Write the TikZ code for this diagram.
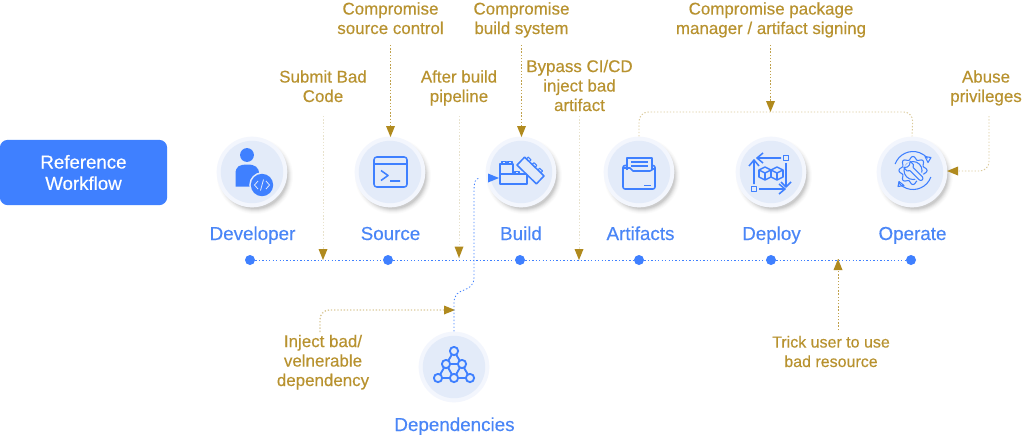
\documentclass[tikz,border=0pt]{standalone}
\usepackage{fontspec}
\setmainfont[RawFeature={embolden=0.35}]{Liberation Sans}
\usetikzlibrary{arrows.meta}
\definecolor{bl}{HTML}{3F80FF}
\definecolor{lbl}{HTML}{4A86F7}
\definecolor{gd}{HTML}{B08A1E}
\definecolor{gdt}{HTML}{B8922F}
\definecolor{pale}{HTML}{E8E2CC}
\definecolor{inn}{HTML}{E3EBF9}
\definecolor{out}{HTML}{F3F6FD}
\tikzset{
  x=0.75pt,y=-0.75pt,
  lab/.style={text=lbl,font=\fontsize{14.1pt}{15pt}\selectfont,inner sep=0pt,anchor=base},
  atk/.style={text=gdt,font=\fontsize{12.7pt}{14.6pt}\selectfont,inner sep=0pt,align=center,anchor=base},
  dotnode/.style={circle,fill=bl,minimum size=7.5pt,inner sep=0pt},
  tl/.style={draw=bl,line width=0.6pt,dash pattern=on 1pt off 1.6pt},
  gl/.style={draw=gd!80,line width=0.6pt,dash pattern=on 1pt off 1.4pt,rounded corners=7pt},
  gls/.style={draw=gd!45,line width=0.7pt,dash pattern=on 1pt off 1.4pt,rounded corners=7pt},
  pl/.style={draw=pale,line width=0.7pt,dash pattern=on 1pt off 1.4pt},
  ic/.style={draw=bl,line width=1.15pt,line join=round,fill=none},
  ict/.style={draw=bl,line width=0.8pt,line join=round,fill=none},
}
\newcommand{\disc}[3]{% name,x,y
  \foreach \r/\o in {38/.015,37/.02,36/.03,35/.04,34/.05,33/.06}{\fill[black,opacity=\o] (#2+3,#3+4) circle[radius=\r*0.75pt];}
  \node[circle,fill=out,minimum size=53pt,inner sep=0pt] (#1) at (#2,#3) {};
  \fill[inn] (#2,#3) circle[radius=23.4pt];
}
\begin{document}
\begin{tikzpicture}
\useasboundingbox (0,0) rectangle (1024,437);
\fill[white] (0,0) rectangle (1024,437);
% box
\node[fill=bl,rounded corners=6pt,minimum width=125.5pt,minimum height=49pt,inner sep=0pt,text=white,align=center,font=\fontsize{14pt}{16pt}\selectfont] (ref) at (83.5,172.5) {Reference\\Workflow};
% discs
\disc{dev}{252}{172}
\disc{src}{390}{172}
\disc{bld}{521}{172}
\disc{art}{639}{172}
\disc{dep}{771}{172}
\disc{opr}{912}{172}
\node[circle,fill=out,minimum size=53pt,inner sep=0pt] (dps) at (454,367) {};
\fill[inn] (454,367) circle[radius=23.4pt];
% labels
\node[lab] (ldev) at (252.5,240) {Developer};
\node[lab] (lsrc) at (390.5,240) {Source};
\node[lab] (lbld) at (521,240) {Build};
\node[lab] (lart) at (640.5,240) {Artifacts};
\node[lab] (ldep) at (771.5,240) {Deploy};
\node[lab] (lopr) at (912.5,240) {Operate};
\node[lab] (ldps) at (454.5,431) {Dependencies};
% timeline
\node[dotnode] (d1) at (250,260) {};
\node[dotnode] (d2) at (388,260) {};
\node[dotnode] (d3) at (520,260) {};
\node[dotnode] (d4) at (639,260) {};
\node[dotnode] (d5) at (771,260) {};
\node[dotnode] (d6) at (911,260) {};
\draw[tl] (d1)--(d2);\draw[tl] (d2)--(d3);\draw[tl] (d3)--(d4);\draw[tl] (d4)--(d5);\draw[tl] (d5)--(d6);
% attack texts
\node[atk] (t1) at (323,102) {Submit Bad\\Code};
\node[atk] (t2) at (390.5,34) {Compromise\\source control};
\node[atk] (t3) at (459,102) {After build\\pipeline};
\node[atk] (t4) at (521.5,34) {Compromise\\build system};
\node[atk] (t5) at (579.5,111) {Bypass CI/CD\\inject bad\\artifact};
\node[atk] (t6) at (771,34) {Compromise package\\manager / artifact signing};
\node[atk] (t7) at (986,102) {Abuse\\privileges};
\node[atk,font=\fontsize{12pt}{14.6pt}\selectfont] (t8) at (831,367) {Trick user to use\\bad resource};
\node[atk] (t9) at (323,386) {Inject bad/\\velnerable\\dependency};
% connectors
\coordinate (c1) at (323,260);
\coordinate (c3) at (459,258);
\coordinate (c5) at (579,260);
\coordinate (c8) at (838,259);
\draw[pl] (323,116) -- (c1);
\fill[gd] (318.5,249)--(327.5,249)--(323,260)--cycle;
\draw[pl] (459,116) -- (c3);
\fill[gd] (454.5,246.5)--(463.5,246.5)--(459,258)--cycle;
\draw[gl] (390.5,45) -- (390.5,128);
\fill[gd] (386,126)--(395,126)--(390.5,137)--cycle;
\draw[gl] (521.5,45) -- (521.5,128);
\fill[gd] (517,126)--(526,126)--(521.5,137)--cycle;
\draw[pl] (579,116) -- (c5);
\fill[gd] (574.5,249)--(583.5,249)--(579,260)--cycle;
\draw[gl] (770.5,45) -- (770.5,104);
\fill[gd] (766,101)--(775,101)--(770.5,112)--cycle;
\draw[gls] (art.north) -- (639,112) -- (913,112) -- (opr.north);
\draw[gls] (989,116) -- (989,171) -- (955,171);
\fill[gd] (947,171)--(958,166.5)--(958,175.5)--cycle;
\draw[gl] (838,330) -- (c8);
\fill[gd] (838,259)--(833.5,270)--(842.5,270)--cycle;
\coordinate (c9) at (455,310);
\draw[gls,line width=1pt] (320,332) -- (320,310) -- (445,310);
\fill[gd] (c9)--(444,305.5)--(444,314.5)--cycle;
\draw[tl] (dps.north) -- (454,303) .. controls (454,285) and (474,295) .. (474,277) -- (474,190) .. controls (474,183) and (475,178) .. (480,178);
\fill[bl] (499,178)--(488,173.5)--(488,182.5)--cycle;
% --- icons
% developer
\fill[bl] (247,155) circle[radius=5.2pt];
\fill[bl] (235.5,186.5) -- (235.5,174) .. controls (235.5,166) and (240,164.5) .. (247,164.5) .. controls (255,164.5) and (259,167) .. (259,174) -- (259,186.5) -- cycle;
\fill[inn] (262,185) circle[radius=9.6pt];
\fill[bl] (262,185) circle[radius=8.4pt];
\draw[inn,line width=0.6pt] (258,181)--(254.5,185)--(258,189) (266,181)--(269.5,185)--(266,189) (263.5,179.5)--(260.5,190.5);
% source
\draw[ic,rounded corners=2pt] (374,157) rectangle (407,187);
\draw[ic] (374,164)--(407,164);
\draw[ic] (381,170.5)--(388,175.5)--(381,180.5) (390,181)--(400,181);
% build
\draw[ic] (500,174) rectangle (527,184);
\draw[ic] (500,174) -- (500,164) -- (513,164) -- (513,174);
\draw[ict] (502,164)--(502,161.5)--(506,161.5)--(506,164) (508,164)--(508,161.5)--(512,161.5)--(512,164);
\draw[ict] (515,174)--(515,171.5)--(519,171.5)--(519,174);
\begin{scope}[shift={(530.5,170.5)},rotate=-44]
\draw[ic,fill=inn] (-13.5,-5.5) rectangle (13.5,5.5);
\draw[ict] (-11,-5.5)--(-11,-8)--(-7,-8)--(-7,-5.5) (-3,-5.5)--(-3,-8)--(1,-8)--(1,-5.5) (5,-5.5)--(5,-8)--(9,-8)--(9,-5.5);
\end{scope}
% artifacts
\draw[ic] (627,170)--(627,158)--(652,158)--(652,170);
\draw[ict] (631,162)--(648,162) (631,166)--(648,166);
\draw[ic,rounded corners=1.5pt] (627,165.5)--(623,165.5)--(623,189)--(655,189)--(655,165.5)--(652,165.5);
\draw[ic] (623,168)--(630,168)--(633,171)--(650,171)--(655,168);
\draw[ic] (644,185.5)--(651,185.5);
% deploy
\draw[ic] (786,163)--(786,186) (781,182)--(786,187)--(791,182);
\draw[ic] (781,158)--(758,158) (763,153)--(757,158)--(763,163);
\draw[ic] (754,184)--(754,161) (749,166)--(754,160)--(759,166);
\draw[ic] (759,189)--(784,189) (779,184)--(785,189)--(779,194);
\draw[ic] (783.5,155.5) rectangle (788.5,160.5);
\draw[ic] (751.5,186.5) rectangle (756.5,191.5);
\draw[ic] (759,170)--(765,167)--(771,170)--(771,177)--(765,180)--(759,177)--cycle (759,170)--(765,173)--(771,170) (765,173)--(765,180);
\draw[ic] (771,170)--(777,167)--(783,170)--(783,177)--(777,180)--(771,177) (771,170)--(777,173)--(783,170) (777,173)--(777,180);
% operate
\begin{scope}[shift={(913,170.5)}]
\draw[ict] (-160:19) arc[start angle=-160,end angle=-40,radius=19];
\draw[ict] (20:19) arc[start angle=20,end angle=140,radius=19];
\draw[ict] (12,-14)--(18,-13)--(15,-8)--cycle;
\draw[ict] (-14,11)--(-15,16)--(-9,15)--cycle;
\draw[ict] plot[domain=0:360,samples=145,smooth] (\x:{12.5+1.5*cos(8*\x)}) -- cycle;
\draw[ict] (0,0) circle[radius=9];
\begin{scope}[rotate=-45]
\fill[inn] (-9,-4.5) rectangle (15,4.5);
\draw[ict] (-2,-2.2)--(11,-2.2) arc[start angle=-90,end angle=90,radius=2.2]--(-2,2.2);
\draw[ict] (-2,-2.2) -- (-4,-4.5) -- (-8.5,-4.5) -- (-6.5,-1.5) -- (-6.5,1.5) -- (-8.5,4.5) -- (-4,4.5) -- (-2,2.2);
\end{scope}
\end{scope}
% dependencies
\coordinate (p1) at (454,351);\coordinate (p2) at (446,364);\coordinate (p3) at (462,364);
\coordinate (p4) at (438,378);\coordinate (p5) at (454,378);\coordinate (p6) at (470,378);
\draw[ic,line width=1.4pt] (p1)--(p4)--(p6)--cycle (p2)--(p3)--(p5)--cycle;
\foreach \p in {p1,p2,p3,p4,p5,p6}{\draw[ic,line width=1.4pt,fill=inn] (\p) circle[radius=3.1pt];}
\end{tikzpicture}
\end{document}
